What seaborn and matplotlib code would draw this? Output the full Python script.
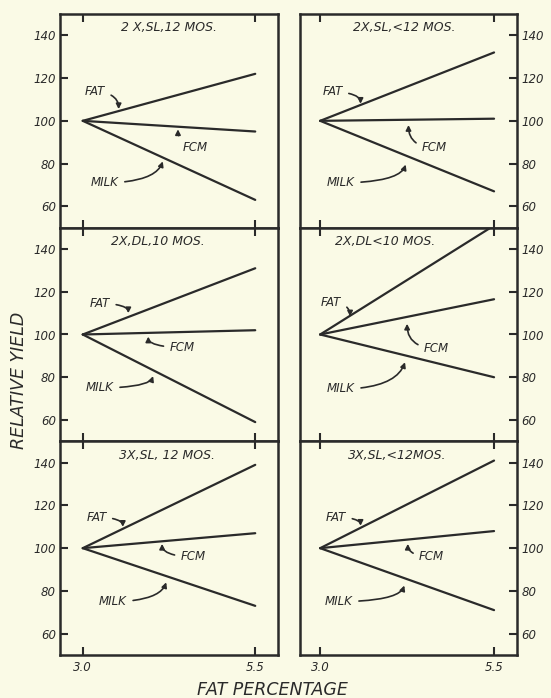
import matplotlib
matplotlib.use("Agg")
import matplotlib.pyplot as plt
import seaborn as sns
import pandas as pd

# ---------------- data ----------------
conditions = ["2 X,SL,12 MOS.", "2X,SL,<12 MOS.", "2X,DL,10 MOS.",
              "2X,DL<10 MOS.", "3X,SL, 12 MOS.", "3X,SL,<12MOS."]
fat_percentage = [3.0, 5.5]
fat_yield = [[100, 122], [100, 132], [100, 131], [100, 151], [100, 139], [100, 141]]
fcm_yield = [[100, 95], [100, 101], [100, 102], [100, 116.5], [100, 107], [100, 108]]
milk_yield = [[100, 63], [100, 67], [100, 59], [100, 80], [100, 73], [100, 71]]
y_ticks = [60, 80, 100, 120, 140]
x_ticks = [3.0, 5.5]
x_tick_labels = ["3.0", "5.5"]

rows = []
for i in range(len(conditions)):
    for name, vals in (("FAT", fat_yield[i]), ("FCM", fcm_yield[i]), ("MILK", milk_yield[i])):
        for x, v in zip(fat_percentage, vals):
            rows.append({"panel": i, "series": name, "fat": x, "value": v})
df = pd.DataFrame(rows)

# ---------------- style ----------------
sns.set_style("ticks")
BG = "#fafae6"
INK = "#2a2a2a"
plt.rcParams["font.family"] = ["DejaVu Sans"]
plt.rcParams["font.style"] = "italic"

fig = plt.figure(figsize=(5.51, 6.98), dpi=100, facecolor=BG)

W, H = 551.0, 698.0
col_left = [60 / W, 300 / W]
col_width = [218 / W, 217 / W]
top, bottom = 1 - 14 / H, 1 - 655 / H
row_h = (top - bottom) / 3
xlims = [(2.67, 5.83), (2.71, 5.83)]

title_x = [0.50, 0.48, 0.45, 0.39, 0.49, 0.45]

# annotation placement (text position, arrow tip) per panel, in data units
ann = [
    {"FAT": ((3.18, 113.5), (3.52, 105.5)), "FCM": ((4.63, 87.5), (4.38, 96.0)), "MILK": ((3.32, 71), (4.16, 81))},
    {"FAT": ((3.18, 113.5), (3.58, 108.0)), "FCM": ((4.64, 87.5), (4.27, 98.0)), "MILK": ((3.30, 71), (4.23, 79.5))},
    {"FAT": ((3.25, 114.5), (3.66, 110.0)), "FCM": ((4.44, 94.0), (3.95, 99.0)), "MILK": ((3.25, 75), (4.02, 80.5))},
    {"FAT": ((3.16, 115.0), (3.43, 108.5)), "FCM": ((4.67, 93.5), (4.25, 105.0)), "MILK": ((3.30, 74.5), (4.22, 87.0))},
    {"FAT": ((3.20, 114.5), (3.58, 110.0)), "FCM": ((4.60, 96.0), (4.15, 102.0)), "MILK": ((3.44, 75), (4.21, 84.0))},
    {"FAT": ((3.23, 114.5), (3.58, 110.5)), "FCM": ((4.60, 96.0), (4.26, 102.0)), "MILK": ((3.27, 75), (4.21, 82.5))},
]
conn = {"FAT": "angle3,angleA=0,angleB=90",
        "FCM": "angle3,angleA=0,angleB=90",
        "MILK": "angle3,angleA=0,angleB=70"}

for i, cond in enumerate(conditions):
    r, c = divmod(i, 2)
    ax = fig.add_axes([col_left[c], bottom + (2 - r) * row_h, col_width[c], row_h])
    ax.set_facecolor(BG)
    sub = df[df["panel"] == i]
    sns.lineplot(data=sub, x="fat", y="value", hue="series",
                 palette={"FAT": INK, "FCM": INK, "MILK": INK},
                 linewidth=1.6, legend=False, ax=ax)
    ax.set_xlim(*xlims[c])
    ax.set_ylim(50, 150)
    ax.set_xlabel("")
    ax.set_ylabel("")
    for sp in ax.spines.values():
        sp.set_visible(True)
        sp.set_linewidth(1.8)
        sp.set_color(INK)

    ax.set_yticks(y_ticks)
    ax.set_yticklabels([str(t) for t in y_ticks], fontsize=8.5, style="italic", color=INK)
    if c == 1:
        ax.yaxis.tick_right()
    ax.tick_params(axis="y", direction="in", length=6, width=1.5, color=INK, pad=3)

    ax.set_xticks(x_ticks)
    ax.tick_params(axis="x", direction="in", length=6, width=1.5, color=INK,
                   top=True, bottom=True, pad=4)
    if r == 2:
        ax.set_xticklabels(x_tick_labels, fontsize=8.5, style="italic", color=INK)
    else:
        ax.set_xticklabels([])

    ax.text(title_x[i], 0.935, cond, transform=ax.transAxes, ha="center", va="center",
            fontsize=9, style="italic", color=INK)

    for name in ("FAT", "FCM", "MILK"):
        (tx, ty), (px, py) = ann[i][name]
        ax.annotate(name, xy=(px, py), xytext=(tx, ty), ha="center", va="center",
                    fontsize=8.5, style="italic", color=INK,
                    arrowprops=dict(arrowstyle="-|>,head_length=0.35,head_width=0.18",
                                    connectionstyle=conn[name], color=INK, lw=1.2,
                                    shrinkA=2, shrinkB=0))

fig.text(19 / W, 1 - 380 / H, "RELATIVE YIELD", rotation=90, ha="center", va="center",
         fontsize=12.5, style="italic", color=INK)
fig.text(272 / W, 1 - 690 / H, "FAT PERCENTAGE", ha="center", va="center",
         fontsize=12.5, style="italic", color=INK)

fig.savefig("out.png", dpi=100, facecolor=BG)
